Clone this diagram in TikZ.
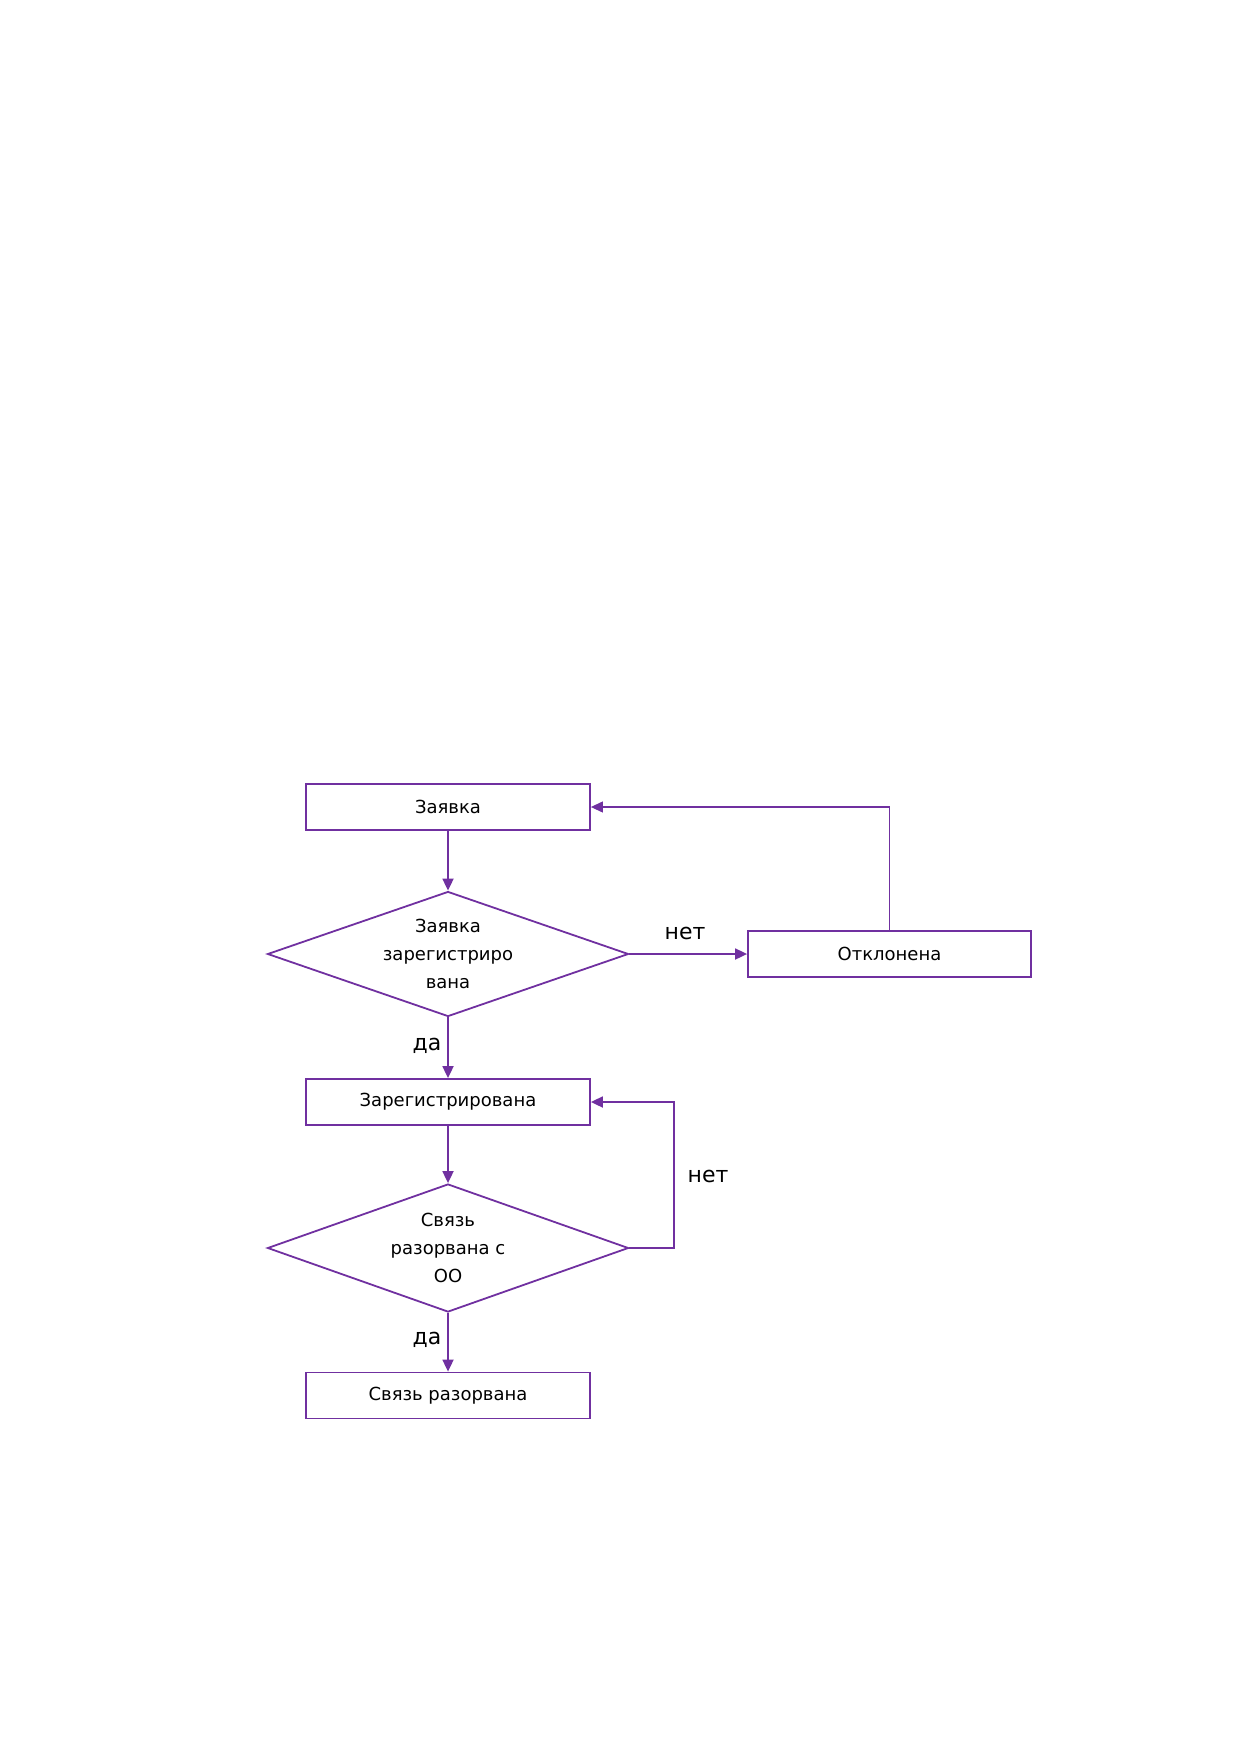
\documentclass[tikz,border=0pt]{standalone}
\usepackage{fontspec}
\setmainfont{DejaVu Sans}
\usetikzlibrary{shapes.geometric,arrows.meta}
\definecolor{lineviolet}{HTML}{7030A0}
\begin{document}
\begin{tikzpicture}[x=0.5pt,y=-0.5pt,
  box/.style={draw=lineviolet,line width=0.9pt,rectangle,minimum width=142pt,minimum height=23pt,inner sep=0pt,font=\fontsize{9}{10}\selectfont},
  decision/.style={draw=lineviolet,line width=0.9pt,diamond,aspect=2.88,minimum width=180.5pt,minimum height=62.5pt,inner sep=0pt,align=center,font=\fontsize{9}{14}\selectfont},
  conn/.style={draw=lineviolet,line width=0.9pt,-{Triangle[length=6pt,width=5.5pt]}},
  lbl/.style={font=\fontsize{11}{13}\selectfont,inner sep=0pt}]
\useasboundingbox (0,0) rectangle (1240,1754);
\node[box] (zayavka) at (448,807) {Заявка};
\node[decision] (d1) at (448,954) {Заявка\\зарегистриро\\вана};
\node[box,minimum width=141.5pt] (otkl) at (889.5,954) {Отклонена};
\node[box] (zareg) at (448,1102) {Зарегистрирована};
\node[decision,minimum height=64pt] (d2) at (448,1248) {Связь\\разорвана с\\ОО};
\node[box] (svyaz) at (448,1395.5) {Связь разорвана};
\coordinate (loop2) at (674,1248);
\draw[conn] (zayavka.south) -- (d1.north);
\draw[conn] (d1.east) -- (otkl.west);
\draw[conn,line width=0.6pt] (otkl.north) |- (zayavka.east);
\draw[conn] (d1.south) -- (zareg.north);
\draw[conn] (zareg.south) -- (d2.north);
\draw[conn] (d2.east) -- (loop2) |- (zareg.east);
\draw[conn] (d2.south) -- (svyaz.north);
\node[lbl] (net1) at (685,933) {нет};
\node[lbl] (da1) at (427,1046) {да};
\node[lbl] (net2) at (708,1176) {нет};
\node[lbl] (da2) at (427,1340) {да};
\end{tikzpicture}
\end{document}
